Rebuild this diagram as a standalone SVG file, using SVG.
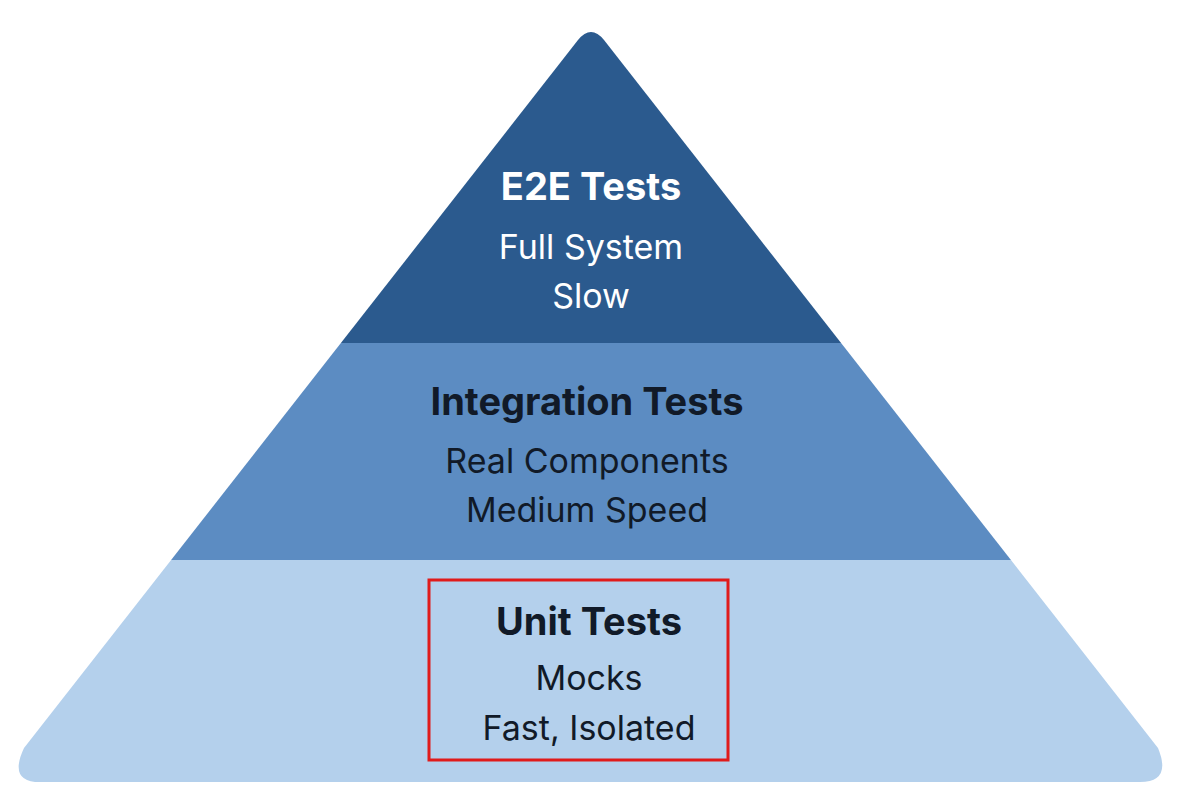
<svg xmlns="http://www.w3.org/2000/svg" width="1180" height="804" viewBox="0 0 1180 804">
<style>
.t{font-family:"Inter","Liberation Sans",sans-serif;text-anchor:middle}
.h{font-weight:700;font-size:38px}
.s{font-size:34px}
</style>
<defs>
<clipPath id="pyr"><path d="M578,40 Q591,24 604,40 L1158,748 Q1172,782 1140,782 L40,782 Q8,782 24,748 Z"/></clipPath>
</defs>
<rect width="1180" height="804" fill="#ffffff"/>
<g clip-path="url(#pyr)">
<g id="e2e"><rect x="0" y="0" width="1180" height="343" fill="#2b5a8e"/></g>
<g id="integration"><rect x="0" y="343" width="1180" height="217" fill="#5c8cc2"/></g>
<g id="unit"><rect x="0" y="560" width="1180" height="244" fill="#b4d0ec"/></g>
</g>
<g class="t">
<text x="591" y="200" class="h" fill="#ffffff">E2E Tests</text>
<text x="591" y="259" class="s" fill="#ffffff">Full System</text>
<text x="591" y="308" class="s" fill="#ffffff">Slow</text>
<text x="587" y="415" class="h" fill="#111a28">Integration Tests</text>
<text x="587" y="473" class="s" fill="#111a28">Real Components</text>
<text x="587" y="522" class="s" fill="#111a28">Medium Speed</text>
<text x="589" y="635" class="h" fill="#111a28">Unit Tests</text>
<text x="589" y="690" class="s" fill="#111a28">Mocks</text>
<text x="589" y="740" class="s" fill="#111a28">Fast, Isolated</text>
</g>
<rect id="highlight" x="429" y="580" width="299" height="180" fill="none" stroke="#e01b1b" stroke-width="3"/>
</svg>
